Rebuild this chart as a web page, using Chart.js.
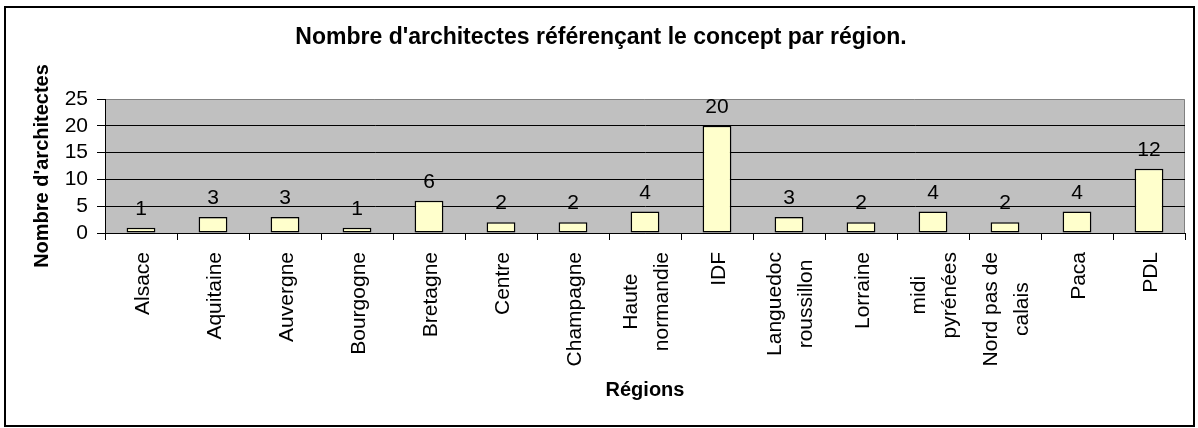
<!DOCTYPE html>
<html>
<head>
<meta charset="utf-8">
<script src="https://cdn.jsdelivr.net/npm/chart.js@4/dist/chart.umd.min.js"></script>
<style>
  body { margin: 0; background: #fff; }
  canvas { display: block; }
</style>
</head>
<body>
<canvas id="myChart" width="1198" height="428"></canvas>
<script>
const regions = ['Alsace', 'Aquitaine', 'Auvergne', 'Bourgogne', 'Bretagne', 'Centre', 'Champagne',
  ['Haute', 'normandie'], 'IDF', ['Languedoc', 'roussillon'], 'Lorraine', ['midi', 'pyrénées'],
  ['Nord pas de', 'calais'], 'Paca', 'PDL'];
const architectes = [1, 3, 3, 1, 6, 2, 2, 4, 20, 3, 2, 4, 2, 4, 12];
const yTicks = [0, 5, 10, 15, 20, 25];

const chartTitle = "Nombre d'architectes référençant le concept par région.";
const fontFamily = "'Liberation Sans', Arial, sans-serif";

// background, plot area, border and title
const decor = {
  id: 'decor',
  beforeDraw(chart) {
    const ctx = chart.ctx;
    const a = chart.chartArea;
    ctx.save();
    ctx.fillStyle = '#fff';
    ctx.fillRect(0, 0, chart.width, chart.height);
    ctx.fillStyle = '#C0C0C0';
    ctx.fillRect(a.left, a.top, a.right - a.left, a.bottom - a.top);
    ctx.strokeStyle = '#808080';
    ctx.lineWidth = 1;
    ctx.beginPath();
    ctx.moveTo(a.left, a.top + 0.5);
    ctx.lineTo(a.right - 0.5, a.top + 0.5);
    ctx.lineTo(a.right - 0.5, a.bottom);
    ctx.stroke();
    ctx.restore();
  },
  afterDraw(chart) {
    const ctx = chart.ctx;
    ctx.save();
    ctx.strokeStyle = '#000';
    ctx.lineWidth = 2;
    ctx.strokeRect(5, 7, 1189, 419);

    ctx.fillStyle = '#000';
    ctx.font = 'bold 23px ' + fontFamily;
    ctx.textAlign = 'center';
    ctx.textBaseline = 'alphabetic';
    ctx.fillText(chartTitle, 601, 44);

    // value labels above the bars
    const meta = chart.getDatasetMeta(0);
    ctx.font = '21px ' + fontFamily;
    meta.data.forEach((bar, i) => {
      ctx.fillText(String(architectes[i]), bar.x, bar.y - 13);
    });

    // rotated category labels, lines centred on each other
    const xs = chart.scales.x;
    ctx.font = '21px ' + fontFamily;
    regions.forEach((lab, i) => {
      const lines = Array.isArray(lab) ? lab : [lab];
      const maxW = Math.max(...lines.map(l => ctx.measureText(l).width));
      const x = xs.getPixelForValue(i) + 2;
      ctx.save();
      ctx.translate(x, 252);
      ctx.rotate(-Math.PI / 2);
      ctx.textAlign = 'center';
      ctx.textBaseline = 'middle';
      lines.forEach((l, j) => {
        ctx.fillText(l, -maxW / 2, (j - (lines.length - 1) / 2) * 31);
      });
      ctx.restore();
    });
    ctx.restore();
  }
};

const ctx = document.getElementById('myChart').getContext('2d');
const chart = new Chart(ctx, {
  type: 'bar',
  data: {
    labels: regions,
    datasets: [{
      data: architectes,
      backgroundColor: '#FFFFCC',
      borderColor: '#000',
      borderWidth: 1.5,
      borderSkipped: false,
      barPercentage: 0.4,
      categoryPercentage: 1
    }]
  },
  options: {
    responsive: false,
    animation: false,
    layout: { padding: { left: 0, top: 99, right: 13, bottom: 15 } },
    plugins: {
      legend: { display: false },
      tooltip: { enabled: false },
      title: { display: false }
    },
    scales: {
      x: {
        afterFit(scale) { scale.height = 180; },
        grid: {
          offset: true,
          drawOnChartArea: false,
          drawTicks: true,
          tickLength: 7,
          color: '#000',
          tickColor: '#000'
        },
        border: { color: '#000', width: 1 },
        ticks: { display: false },
        title: {
          display: true,
          text: 'Régions',
          color: '#000',
          font: { family: fontFamily, size: 20, weight: 'bold' },
          padding: { top: 0, bottom: 11 }
        }
      },
      y: {
        min: 0,
        max: 25,
        afterFit(scale) { scale.width = 105; },
        afterBuildTicks(scale) { scale.ticks = yTicks.map(v => ({ value: v })); },
        grid: {
          color: c => (c.tick && c.tick.value === 25 ? 'rgba(0,0,0,0)' : '#000'),
          tickColor: '#000',
          tickLength: 8,
          drawTicks: true
        },
        border: { color: '#000', width: 1 },
        ticks: {
          color: '#000',
          padding: 9,
          autoSkip: false,
          font: { family: fontFamily, size: 21 }
        },
        title: {
          display: true,
          text: "Nombre d'architectes",
          color: '#000',
          font: { family: fontFamily, size: 20, weight: 'bold' },
          padding: { top: 30, bottom: 0 }
        }
      }
    }
  },
  plugins: [decor]
});
</script>
</body>
</html>
